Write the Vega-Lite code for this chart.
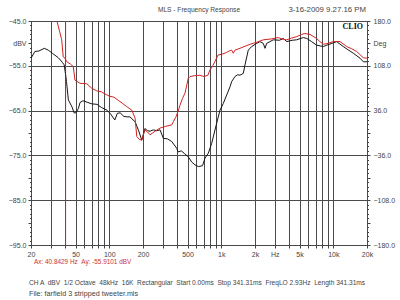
{
  "$schema": "https://vega.github.io/schema/vega-lite/v6.json",
  "autosize": {"type": "none"},
  "padding": {"left": 31, "top": 21, "right": 33, "bottom": 55},
  "width": 336,
  "height": 224,
  "background": "white",
  "config": {
    "font": "Liberation Sans",
    "view": {"stroke": "#222222", "strokeWidth": 1},
    "axis": {"labelFont": "Liberation Sans", "labelFontSize": 7, "labelColor": "#444444", "domainColor": "#222222", "tickColor": "#444444", "gridColor": "#4a4a4a", "gridWidth": 1, "title": null}
  },
  "datasets": {
    "curves": [
      {"freq": 20, "level": -53.3, "trace": "A"},
      {"freq": 21.7, "level": -51.8, "trace": "A"},
      {"freq": 23.5, "level": -51.7, "trace": "A"},
      {"freq": 26.3, "level": -51.1, "trace": "A"},
      {"freq": 28.5, "level": -51.5, "trace": "A"},
      {"freq": 31, "level": -52.2, "trace": "A"},
      {"freq": 35.1, "level": -53.2, "trace": "A"},
      {"freq": 38, "level": -54.2, "trace": "A"},
      {"freq": 39.6, "level": -54.8, "trace": "A"},
      {"freq": 41.5, "level": -58.5, "trace": "A"},
      {"freq": 43.1, "level": -62.6, "trace": "A"},
      {"freq": 46.5, "level": -64.2, "trace": "A"},
      {"freq": 48.5, "level": -65.5, "trace": "A"},
      {"freq": 50.4, "level": -65.5, "trace": "A"},
      {"freq": 53, "level": -64.5, "trace": "A"},
      {"freq": 54.8, "level": -63.2, "trace": "A"},
      {"freq": 58.2, "level": -62.8, "trace": "A"},
      {"freq": 64.5, "level": -63.2, "trace": "A"},
      {"freq": 70, "level": -63.5, "trace": "A"},
      {"freq": 77.7, "level": -63.6, "trace": "A"},
      {"freq": 85, "level": -64.3, "trace": "A"},
      {"freq": 95.4, "level": -64.9, "trace": "A"},
      {"freq": 103, "level": -65.8, "trace": "A"},
      {"freq": 112, "level": -67.1, "trace": "A"},
      {"freq": 118, "level": -65.6, "trace": "A"},
      {"freq": 125, "level": -65.5, "trace": "A"},
      {"freq": 135, "level": -66.3, "trace": "A"},
      {"freq": 144, "level": -66.4, "trace": "A"},
      {"freq": 153, "level": -66.4, "trace": "A"},
      {"freq": 170, "level": -67.5, "trace": "A"},
      {"freq": 183, "level": -69.5, "trace": "A"},
      {"freq": 195, "level": -71.6, "trace": "A"},
      {"freq": 208, "level": -69.0, "trace": "A"},
      {"freq": 220, "level": -69.5, "trace": "A"},
      {"freq": 231, "level": -69.6, "trace": "A"},
      {"freq": 247, "level": -69.3, "trace": "A"},
      {"freq": 265, "level": -69.5, "trace": "A"},
      {"freq": 284, "level": -69.3, "trace": "A"},
      {"freq": 304, "level": -71.2, "trace": "A"},
      {"freq": 330, "level": -71.3, "trace": "A"},
      {"freq": 361, "level": -71.9, "trace": "A"},
      {"freq": 400, "level": -73.4, "trace": "A"},
      {"freq": 411, "level": -74.2, "trace": "A"},
      {"freq": 440, "level": -74.0, "trace": "A"},
      {"freq": 470, "level": -74.6, "trace": "A"},
      {"freq": 507, "level": -75.3, "trace": "A"},
      {"freq": 545, "level": -76.5, "trace": "A"},
      {"freq": 582, "level": -77.1, "trace": "A"},
      {"freq": 624, "level": -77.5, "trace": "A"},
      {"freq": 680, "level": -77.3, "trace": "A"},
      {"freq": 716, "level": -75.6, "trace": "A"},
      {"freq": 766, "level": -74.5, "trace": "A"},
      {"freq": 821, "level": -72.3, "trace": "A"},
      {"freq": 865, "level": -70.0, "trace": "A"},
      {"freq": 910, "level": -67.8, "trace": "A"},
      {"freq": 974, "level": -64.9, "trace": "A"},
      {"freq": 1042, "level": -63.4, "trace": "A"},
      {"freq": 1118, "level": -61.5, "trace": "A"},
      {"freq": 1197, "level": -59.7, "trace": "A"},
      {"freq": 1239, "level": -58.5, "trace": "A"},
      {"freq": 1325, "level": -57.4, "trace": "A"},
      {"freq": 1400, "level": -57.0, "trace": "A"},
      {"freq": 1468, "level": -57.1, "trace": "A"},
      {"freq": 1572, "level": -56.7, "trace": "A"},
      {"freq": 1628, "level": -54.8, "trace": "A"},
      {"freq": 1742, "level": -51.5, "trace": "A"},
      {"freq": 1868, "level": -50.7, "trace": "A"},
      {"freq": 2070, "level": -50.0, "trace": "A"},
      {"freq": 2216, "level": -49.6, "trace": "A"},
      {"freq": 2372, "level": -50.0, "trace": "A"},
      {"freq": 2457, "level": -51.1, "trace": "A"},
      {"freq": 2543, "level": -50.0, "trace": "A"},
      {"freq": 2912, "level": -49.2, "trace": "A"},
      {"freq": 3300, "level": -49.3, "trace": "A"},
      {"freq": 3578, "level": -48.9, "trace": "A"},
      {"freq": 3837, "level": -49.6, "trace": "A"},
      {"freq": 4300, "level": -49.3, "trace": "A"},
      {"freq": 4712, "level": -49.2, "trace": "A"},
      {"freq": 5400, "level": -48.7, "trace": "A"},
      {"freq": 5800, "level": -48.9, "trace": "A"},
      {"freq": 6400, "level": -49.6, "trace": "A"},
      {"freq": 7106, "level": -50.4, "trace": "A"},
      {"freq": 8150, "level": -50.7, "trace": "A"},
      {"freq": 8732, "level": -50.4, "trace": "A"},
      {"freq": 9700, "level": -50.0, "trace": "A"},
      {"freq": 10720, "level": -49.6, "trace": "A"},
      {"freq": 12280, "level": -50.7, "trace": "A"},
      {"freq": 13500, "level": -51.4, "trace": "A"},
      {"freq": 15100, "level": -52.2, "trace": "A"},
      {"freq": 17320, "level": -53.3, "trace": "A"},
      {"freq": 18540, "level": -54.1, "trace": "A"},
      {"freq": 20000, "level": -54.1, "trace": "A"},
      {"freq": 34.1, "level": -45.0, "trace": "B"},
      {"freq": 36, "level": -47.3, "trace": "B"},
      {"freq": 37.6, "level": -49.2, "trace": "B"},
      {"freq": 38.8, "level": -53.0, "trace": "B"},
      {"freq": 40.2, "level": -53.3, "trace": "B"},
      {"freq": 41.7, "level": -54.1, "trace": "B"},
      {"freq": 45, "level": -54.6, "trace": "B"},
      {"freq": 47.7, "level": -55.2, "trace": "B"},
      {"freq": 49.4, "level": -58.2, "trace": "B"},
      {"freq": 54.8, "level": -58.9, "trace": "B"},
      {"freq": 62.9, "level": -59.0, "trace": "B"},
      {"freq": 69.7, "level": -60.0, "trace": "B"},
      {"freq": 77.2, "level": -60.6, "trace": "B"},
      {"freq": 85, "level": -60.8, "trace": "B"},
      {"freq": 91.6, "level": -61.3, "trace": "B"},
      {"freq": 101, "level": -61.8, "trace": "B"},
      {"freq": 110, "level": -62.0, "trace": "B"},
      {"freq": 120, "level": -62.7, "trace": "B"},
      {"freq": 130, "level": -63.3, "trace": "B"},
      {"freq": 143, "level": -64.1, "trace": "B"},
      {"freq": 159, "level": -64.9, "trace": "B"},
      {"freq": 170, "level": -66.7, "trace": "B"},
      {"freq": 176, "level": -70.8, "trace": "B"},
      {"freq": 185, "level": -71.4, "trace": "B"},
      {"freq": 195, "level": -71.6, "trace": "B"},
      {"freq": 208, "level": -69.3, "trace": "B"},
      {"freq": 220, "level": -69.8, "trace": "B"},
      {"freq": 231, "level": -70.4, "trace": "B"},
      {"freq": 260, "level": -69.5, "trace": "B"},
      {"freq": 284, "level": -68.9, "trace": "B"},
      {"freq": 320, "level": -68.5, "trace": "B"},
      {"freq": 361, "level": -68.2, "trace": "B"},
      {"freq": 373, "level": -67.5, "trace": "B"},
      {"freq": 392, "level": -66.5, "trace": "B"},
      {"freq": 411, "level": -65.2, "trace": "B"},
      {"freq": 428, "level": -63.8, "trace": "B"},
      {"freq": 450, "level": -62.3, "trace": "B"},
      {"freq": 474, "level": -61.1, "trace": "B"},
      {"freq": 490, "level": -59.5, "trace": "B"},
      {"freq": 507, "level": -57.8, "trace": "B"},
      {"freq": 526, "level": -57.4, "trace": "B"},
      {"freq": 580, "level": -57.2, "trace": "B"},
      {"freq": 646, "level": -57.1, "trace": "B"},
      {"freq": 700, "level": -57.4, "trace": "B"},
      {"freq": 760, "level": -57.1, "trace": "B"},
      {"freq": 793, "level": -55.9, "trace": "B"},
      {"freq": 840, "level": -55.0, "trace": "B"},
      {"freq": 879, "level": -54.0, "trace": "B"},
      {"freq": 935, "level": -52.6, "trace": "B"},
      {"freq": 1020, "level": -52.4, "trace": "B"},
      {"freq": 1118, "level": -52.0, "trace": "B"},
      {"freq": 1200, "level": -51.6, "trace": "B"},
      {"freq": 1239, "level": -51.5, "trace": "B"},
      {"freq": 1280, "level": -52.2, "trace": "B"},
      {"freq": 1325, "level": -51.5, "trace": "B"},
      {"freq": 1500, "level": -51.0, "trace": "B"},
      {"freq": 1804, "level": -50.2, "trace": "B"},
      {"freq": 2100, "level": -49.7, "trace": "B"},
      {"freq": 2372, "level": -49.2, "trace": "B"},
      {"freq": 2800, "level": -49.0, "trace": "B"},
      {"freq": 3226, "level": -48.7, "trace": "B"},
      {"freq": 3578, "level": -49.1, "trace": "B"},
      {"freq": 3837, "level": -49.2, "trace": "B"},
      {"freq": 4250, "level": -48.8, "trace": "B"},
      {"freq": 4712, "level": -48.5, "trace": "B"},
      {"freq": 5200, "level": -48.0, "trace": "B"},
      {"freq": 5586, "level": -47.8, "trace": "B"},
      {"freq": 6200, "level": -48.0, "trace": "B"},
      {"freq": 7106, "level": -48.9, "trace": "B"},
      {"freq": 7600, "level": -49.6, "trace": "B"},
      {"freq": 8150, "level": -50.2, "trace": "B"},
      {"freq": 9000, "level": -50.0, "trace": "B"},
      {"freq": 10010, "level": -49.6, "trace": "B"},
      {"freq": 11480, "level": -49.6, "trace": "B"},
      {"freq": 13180, "level": -50.7, "trace": "B"},
      {"freq": 14600, "level": -51.2, "trace": "B"},
      {"freq": 16180, "level": -51.8, "trace": "B"},
      {"freq": 18540, "level": -53.2, "trace": "B"},
      {"freq": 20000, "level": -53.3, "trace": "B"}
    ],
    "one": [{}]
  },
  "resolve": {"axis": {"x": "independent", "y": "independent"}},
  "layer": [
    {
      "data": {"name": "curves"},
      "mark": {"type": "line", "strokeWidth": 1, "clip": true, "interpolate": "linear"},
      "encoding": {
        "x": {"field": "freq", "type": "quantitative",
          "scale": {"type": "log", "domain": [20, 20000], "nice": false},
          "axis": {"title": null, "grid": true, "values": [20,30,40,50,60,70,80,90,100,200,300,400,500,600,700,800,900,1000,2000,3000,4000,5000,6000,7000,8000,9000,10000,20000],
            "labelExpr": "datum.value == 3000 ? 'Hz' : (indexof([20,50,100,200,500,1000,2000,5000,10000,20000], datum.value) >= 0 ? (datum.value >= 1000 ? (datum.value / 1000) + 'k' : datum.value + '') : '')",
            "labelOverlap": false, "labelFlush": false, "tickSize": 3, "labelPadding": 2, "domain": false}},
        "y": {"field": "level", "type": "quantitative",
          "scale": {"domain": [-95, -45], "nice": false, "zero": false},
          "axis": {"title": null, "orient": "left", "grid": true,
            "values": [-95,-94,-93,-92,-91,-90,-89,-88,-87,-86,-85,-84,-83,-82,-81,-80,-79,-78,-77,-76,-75,-74,-73,-72,-71,-70,-69,-68,-67,-66,-65,-64,-63,-62,-61,-60,-59,-58,-57,-56,-55,-54,-53,-52,-51,-50,-49,-48,-47,-46,-45],
            "gridOpacity": {"condition": {"test": "abs(datum.value % 10) == 5", "value": 1}, "value": 0},
            "tickSize": {"condition": {"test": "abs(datum.value % 5) == 0", "value": 3}, "value": 1.5},
            "labelExpr": "abs(datum.value % 10) == 5 ? format(datum.value, '.1f') : (datum.value == -50 ? 'dBV' : '')",
            "labelOverlap": false, "labelFlush": false, "labelPadding": 2, "domain": false}},
        "color": {"field": "trace", "type": "nominal", "scale": {"domain": ["A", "B"], "range": ["#151515", "#d22222"]}, "legend": null},
        "order": {"field": "freq", "type": "quantitative"}
      }
    },
    {
      "data": {"name": "one"},
      "mark": {"type": "rule", "color": "#d04040", "strokeWidth": 1, "strokeDash": [1, 1.5]},
      "encoding": {
        "x": {"datum": 40.8429, "type": "quantitative", "scale": {"type": "log", "domain": [20, 20000], "nice": false}, "axis": null}
      }
    },
    {
      "data": {"name": "one"},
      "mark": {"type": "text", "text": "CLIO", "font": "Liberation Serif", "fontWeight": "bold", "fontSize": 8, "align": "right", "baseline": "middle", "dx": -4, "dy": 6, "color": "#111111"},
      "encoding": {
        "x": {"datum": 20000, "type": "quantitative", "scale": {"type": "log", "domain": [20, 20000], "nice": false}, "axis": null},
        "y": {"datum": -45, "type": "quantitative", "scale": {"domain": [-95, -45], "nice": false, "zero": false},
          "axis": {"title": null, "orient": "right", "grid": false,
            "values": [-95,-94,-93,-92,-91,-90,-89,-88,-87,-86,-85,-84,-83,-82,-81,-80,-79,-78,-77,-76,-75,-74,-73,-72,-71,-70,-69,-68,-67,-66,-65,-64,-63,-62,-61,-60,-59,-58,-57,-56,-55,-54,-53,-52,-51,-50,-49,-48,-47,-46,-45],
            "tickSize": {"condition": {"test": "abs(datum.value % 5) == 0", "value": 3}, "value": 1.5},
            "labelExpr": "abs(datum.value % 10) == 5 ? format((datum.value + 45) * 7.2 + 180, '.1f') : (datum.value == -50 ? 'Deg' : '')",
            "labelOverlap": false, "labelFlush": false, "labelPadding": 3, "domain": false}}
      }
    },
    {
      "data": {"name": "one"},
      "mark": {"type": "text", "text": "MLS - Frequency Response", "fontSize": 6.6, "align": "center", "baseline": "middle", "dy": -11, "color": "#444444"},
      "encoding": {
        "x": {"datum": 632.5, "type": "quantitative", "scale": {"type": "log", "domain": [20, 20000], "nice": false}, "axis": null},
        "y": {"datum": -45, "type": "quantitative", "scale": {"domain": [-95, -45], "nice": false, "zero": false}, "axis": null}
      }
    },
    {
      "data": {"name": "one"},
      "mark": {"type": "text", "text": "3-16-2009 9.27.16 PM", "fontSize": 7.8, "align": "right", "baseline": "middle", "dx": -1, "dy": -11, "color": "#444444"},
      "encoding": {
        "x": {"datum": 20000, "type": "quantitative", "scale": {"type": "log", "domain": [20, 20000], "nice": false}, "axis": null},
        "y": {"datum": -45, "type": "quantitative", "scale": {"domain": [-95, -45], "nice": false, "zero": false}, "axis": null}
      }
    },
    {
      "data": {"name": "one"},
      "mark": {"type": "text", "text": "Ax: 40.8429 Hz \u00a0Ay: -55.9101 dBV", "fontSize": 6.4, "align": "left", "baseline": "middle", "dx": 3, "dy": 17, "color": "#cc3333"},
      "encoding": {
        "x": {"datum": 20, "type": "quantitative", "scale": {"type": "log", "domain": [20, 20000], "nice": false}, "axis": null},
        "y": {"datum": -95, "type": "quantitative", "scale": {"domain": [-95, -45], "nice": false, "zero": false}, "axis": null}
      }
    },
    {
      "data": {"name": "one"},
      "mark": {"type": "text", "text": "CH A \u00a0dBV \u00a01/2 Octave \u00a048kHz \u00a016K \u00a0Rectangular \u00a0Start 0.00ms \u00a0Stop 341.31ms \u00a0FreqLO 2.93Hz \u00a0Length 341.31ms", "fontSize": 6.6, "align": "left", "baseline": "middle", "dx": -2, "dy": 38, "color": "#444444"},
      "encoding": {
        "x": {"datum": 20, "type": "quantitative", "scale": {"type": "log", "domain": [20, 20000], "nice": false}, "axis": null},
        "y": {"datum": -95, "type": "quantitative", "scale": {"domain": [-95, -45], "nice": false, "zero": false}, "axis": null}
      }
    },
    {
      "data": {"name": "one"},
      "mark": {"type": "text", "text": "File: farfield 3 stripped tweeter.mls", "fontSize": 7.2, "align": "left", "baseline": "middle", "dx": -2, "dy": 49, "color": "#444444"},
      "encoding": {
        "x": {"datum": 20, "type": "quantitative", "scale": {"type": "log", "domain": [20, 20000], "nice": false}, "axis": null},
        "y": {"datum": -95, "type": "quantitative", "scale": {"domain": [-95, -45], "nice": false, "zero": false}, "axis": null}
      }
    }
  ]
}
